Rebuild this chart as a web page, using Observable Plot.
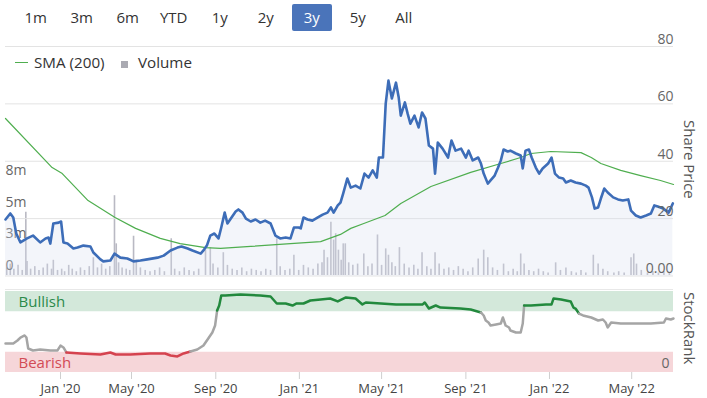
<!DOCTYPE html>
<html><head><meta charset="utf-8">
<script src="https://cdn.jsdelivr.net/npm/d3@7"></script>
<script src="https://cdn.jsdelivr.net/npm/@observablehq/plot@0.6"></script>
<style>
body{margin:0;background:#fff;font-family:"Open Sans",sans-serif;}
#wrap{position:relative;width:707px;height:398px;overflow:hidden;background:#fff;}
.layer{position:absolute;left:0;}
.btn{position:absolute;top:4px;height:27px;line-height:27px;font-size:15px;color:#333;text-align:center;width:40px;margin-left:-20px;border-radius:2px;}
.btn.on{background:#4a74ba;color:#fff;}
.leg{position:absolute;font-size:15.2px;color:#333;line-height:20px;top:52px;}
.vt{position:absolute;writing-mode:vertical-rl;font-size:15px;color:#555;line-height:18px;white-space:nowrap;}
.sep{position:absolute;left:5px;width:668px;height:0;border-top:1px solid #e8e8e8;}
.rank [aria-label="x-axis tick"], .rank [aria-label="x-axis"] .tick line{stroke:#cfcfcf;}
</style>
</head><body>
<div id="wrap"></div>
<script>
// ---------- data ----------
const rangeButtons = ["1m","3m","6m","YTD","1y","2y","3y","5y","All"];
const activeButton = "3y";

const priceData = [
["2019-10-01",19.7],["2019-10-09",21.8],["2019-10-14",20.4],["2019-10-19",14.8],["2019-10-26",11.7],
["2019-11-06",13.1],["2019-11-16",14.1],["2019-11-28",11.7],["2019-12-07",13.1],["2019-12-12",13.4],
["2019-12-15",11.3],["2019-12-20",18.3],["2019-12-29",18.6],["2020-01-02",19.0],["2020-01-06",11.7],
["2020-01-13",11.3],["2020-01-23",9.6],["2020-01-30",9.9],["2020-02-09",10.6],["2020-02-21",10.3],
["2020-02-26",8.2],["2020-03-09",5.8],["2020-03-14",5.1],["2020-03-26",5.4],["2020-04-02",7.8],
["2020-04-12",6.4],["2020-04-24",6.1],["2020-05-04",5.1],["2020-05-14",5.4],["2020-05-24",5.8],
["2020-06-08",6.4],["2020-06-17",7.1],["2020-06-27",8.9],["2020-07-07",9.9],["2020-07-13",10.3],
["2020-07-22",9.6],["2020-07-29",8.9],["2020-08-10",7.8],["2020-08-14",8.9],["2020-08-19",10.6],
["2020-08-24",14.1],["2020-08-30",14.8],["2020-09-05",13.1],["2020-09-09",16.9],["2020-09-14",22.1],
["2020-09-18",18.3],["2020-09-24",20.4],["2020-09-30",22.5],["2020-10-04",23.2],["2020-10-10",22.1],
["2020-10-15",20.0],["2020-10-22",19.0],["2020-10-29",19.7],["2020-11-05",18.6],["2020-11-12",19.3],
["2020-11-20",18.3],["2020-11-27",14.1],["2020-12-04",13.1],["2020-12-12",13.4],["2020-12-19",13.1],
["2020-12-24",16.9],["2020-12-31",16.9],["2021-01-03",16.6],["2021-01-07",20.4],["2021-01-13",19.7],
["2021-01-20",19.3],["2021-01-28",20.4],["2021-02-04",21.4],["2021-02-11",22.1],["2021-02-16",23.9],
["2021-02-20",22.1],["2021-02-26",24.6],["2021-03-02",25.6],["2021-03-06",28.8],["2021-03-12",34.0],
["2021-03-17",30.8],["2021-03-24",31.5],["2021-03-31",30.5],["2021-04-06",35.7],["2021-04-12",34.3],
["2021-04-18",36.8],["2021-04-24",34.3],["2021-04-27",41.3],["2021-05-03",41.3],["2021-05-07",60.1],
["2021-05-11",68.1],["2021-05-16",61.9],["2021-05-22",67.4],["2021-05-26",62.2],["2021-05-29",55.9],
["2021-06-04",60.5],["2021-06-08",56.6],["2021-06-12",53.1],["2021-06-18",55.9],["2021-06-24",51.8],
["2021-06-29",57.0],["2021-07-04",54.9],["2021-07-09",45.5],["2021-07-15",44.4],["2021-07-18",35.7],
["2021-07-22",46.5],["2021-07-29",44.4],["2021-08-06",41.3],["2021-08-11",47.2],["2021-08-17",43.7],
["2021-08-25",44.4],["2021-09-01",41.3],["2021-09-05",43.7],["2021-09-11",40.3],["2021-09-19",41.3],
["2021-09-23",39.2],["2021-09-27",35.7],["2021-10-03",32.2],["2021-10-07",33.3],["2021-10-13",35.0],
["2021-10-18",37.8],["2021-10-22",40.3],["2021-10-26",44.1],["2021-11-01",43.4],["2021-11-05",43.7],
["2021-11-13",42.7],["2021-11-20",42.0],["2021-11-23",37.5],["2021-11-27",43.7],["2021-12-02",44.1],
["2021-12-06",41.3],["2021-12-12",37.8],["2021-12-17",35.7],["2021-12-22",37.5],["2021-12-30",39.2],
["2022-01-04",41.3],["2022-01-09",35.7],["2022-01-15",34.3],["2022-01-21",34.0],["2022-01-25",32.6],
["2022-02-01",33.3],["2022-02-08",32.6],["2022-02-16",32.2],["2022-02-23",31.5],["2022-02-27",30.8],
["2022-03-04",27.4],["2022-03-08",23.5],["2022-03-13",23.9],["2022-03-17",27.0],["2022-03-22",30.5],
["2022-03-27",29.1],["2022-04-04",27.4],["2022-04-11",26.7],["2022-04-18",26.3],["2022-04-26",26.7],
["2022-04-30",22.8],["2022-05-07",21.1],["2022-05-14",20.4],["2022-05-22",21.1],["2022-05-29",21.8],
["2022-06-03",24.6],["2022-06-08",24.2],["2022-06-16",23.5],["2022-06-20",22.8],["2022-06-24",22.1],
["2022-06-30",25.3]
];

const smaData = [
["2019-10-01",54.9],["2019-12-18",37.8],["2020-01-04",35.7],["2020-02-17",26.3],["2020-04-03",20.4],
["2020-05-07",16.6],["2020-06-12",13.1],["2020-07-11",11.3],["2020-08-17",9.9],["2020-09-08",9.6],
["2020-10-22",10.3],["2020-12-19",11.3],["2021-02-01",12.0],["2021-03-02",14.5],["2021-03-17",16.6],
["2021-04-05",18.3],["2021-05-06",21.1],["2021-05-29",25.3],["2021-07-12",31.2],["2021-09-08",36.1],
["2021-10-22",39.2],["2021-11-20",41.3],["2021-12-05",42.7],["2022-01-03",43.4],["2022-02-16",43.0],
["2022-03-03",41.3],["2022-03-17",39.2],["2022-04-15",36.8],["2022-05-14",35.0],["2022-06-12",33.3],
["2022-07-01",31.9]
];

// volume in millions
const volumeData = [
["2019-10-03",0.6],["2019-10-09",0.9],["2019-10-15",0.5],["2019-10-22",0.8],["2019-10-29",0.4],["2019-11-04",5.0],
["2019-11-06",1.1],["2019-11-12",0.5],["2019-11-19",0.7],["2019-11-26",0.4],["2019-12-03",0.6],["2019-12-10",0.9],
["2019-12-17",0.5],["2019-12-20",1.2],["2019-12-27",0.4],["2020-01-03",0.5],["2020-01-08",0.3],["2020-01-15",0.8],
["2020-01-21",0.5],["2020-01-28",0.3],["2020-02-04",0.6],["2020-02-11",0.4],["2020-02-19",0.7],["2020-02-26",1.4],
["2020-03-04",0.6],["2020-03-11",0.9],["2020-03-18",0.5],["2020-03-25",0.7],["2020-04-02",6.3],["2020-04-05",2.5],
["2020-04-09",1.0],["2020-04-15",0.6],["2020-04-22",0.5],["2020-04-28",0.4],["2020-05-04",3.1],["2020-05-08",1.2],
["2020-05-14",0.6],["2020-05-21",0.4],["2020-05-28",0.3],["2020-06-04",0.4],["2020-06-11",0.6],["2020-06-18",0.3],
["2020-06-28",2.9],["2020-07-03",0.5],["2020-07-10",0.3],["2020-07-17",0.6],["2020-07-24",0.4],["2020-07-31",0.3],
["2020-08-07",0.5],["2020-08-17",2.0],["2020-08-24",2.2],["2020-08-28",0.9],["2020-09-04",0.6],["2020-09-12",1.8],
["2020-09-18",0.8],["2020-09-25",0.5],["2020-10-02",0.4],["2020-10-09",0.6],["2020-10-16",0.3],["2020-10-23",0.5],
["2020-10-30",0.4],["2020-11-06",0.3],["2020-11-13",0.5],["2020-11-20",0.4],["2020-11-29",2.9],["2020-12-04",0.7],
["2020-12-11",0.4],["2020-12-18",0.5],["2020-12-24",1.6],["2020-12-31",0.4],["2021-01-07",0.8],["2021-01-14",0.6],
["2021-01-21",0.5],["2021-01-28",0.9],["2021-02-03",1.0],["2021-02-06",2.0],["2021-02-11",1.4],["2021-02-16",4.2],
["2021-02-20",2.8],["2021-02-23",3.3],["2021-02-27",2.0],["2021-03-03",1.2],["2021-03-06",2.5],["2021-03-09",2.5],
["2021-03-14",1.0],["2021-03-20",0.8],["2021-03-27",0.9],["2021-04-05",1.7],["2021-04-11",0.7],["2021-04-17",0.9],
["2021-04-25",3.2],["2021-05-01",0.8],["2021-05-07",2.1],["2021-05-11",1.6],["2021-05-16",1.0],["2021-05-21",0.7],
["2021-05-27",2.2],["2021-06-03",0.9],["2021-06-10",0.6],["2021-06-17",0.8],["2021-06-23",0.5],["2021-06-29",1.8],
["2021-07-06",0.7],["2021-07-12",0.5],["2021-07-18",1.8],["2021-07-24",0.9],["2021-07-31",0.5],["2021-08-07",0.6],
["2021-08-14",0.4],["2021-08-21",0.7],["2021-08-28",0.5],["2021-09-04",0.3],["2021-09-11",0.6],["2021-09-19",1.3],
["2021-09-27",2.0],["2021-10-03",1.4],["2021-10-10",0.6],["2021-10-17",0.4],["2021-10-26",0.9],["2021-11-02",0.3],
["2021-11-09",0.5],["2021-11-15",0.3],["2021-11-20",1.7],["2021-11-25",0.9],["2021-12-02",0.4],["2021-12-09",0.3],
["2021-12-16",0.5],["2021-12-23",0.3],["2021-12-30",0.2],["2022-01-10",1.0],["2022-01-17",0.4],["2022-01-25",0.6],
["2022-02-02",0.3],["2022-02-09",0.2],["2022-02-16",0.4],["2022-02-23",0.2],["2022-03-06",1.6],["2022-03-13",0.9],
["2022-03-20",0.5],["2022-03-27",0.3],["2022-04-05",0.2],["2022-04-12",0.3],["2022-04-20",0.2],["2022-04-30",1.4],
["2022-05-04",1.7],["2022-05-08",0.9],["2022-05-15",0.4],["2022-05-24",0.2],["2022-06-01",0.3],["2022-06-09",0.2],
["2022-06-17",0.3],["2022-06-25",0.2]
];

const rankData = [
["2019-10-01",35.8],["2019-10-14",35.8],["2019-10-21",39.5],["2019-10-26",43.2],["2019-11-02",45.7],["2019-11-05",43.2],
["2019-11-08",29.6],["2019-11-16",27.2],["2019-11-28",28.4],["2019-12-15",27.2],["2019-12-27",27.2],["2020-01-01",33.3],
["2020-01-06",30.9],["2020-01-11",24.7],["2020-02-04",23.5],["2020-03-09",22.2],["2020-03-26",24.7],["2020-04-04",22.2],
["2020-04-29",22.2],["2020-05-28",23.5],["2020-06-19",23.5],["2020-06-27",21.0],["2020-07-07",19.8],["2020-07-16",23.5],
["2020-07-26",25.9],["2020-08-05",28.4],["2020-08-14",33.3],["2020-08-21",42.0],["2020-08-27",49.4],["2020-08-31",58.0],
["2020-09-03",76.5],["2020-09-06",82.7],["2020-09-09",95.1],["2020-09-15",95.1],["2020-10-07",96.3],["2020-11-05",95.1],
["2020-11-20",93.8],["2020-11-29",85.2],["2020-12-12",85.2],["2020-12-22",82.7],["2020-12-28",85.2],["2021-01-07",85.2],
["2021-01-17",88.9],["2021-02-01",90.1],["2021-02-15",91.4],["2021-02-26",87.7],["2021-03-10",92.6],["2021-03-24",91.4],
["2021-04-03",84.0],["2021-04-08",86.4],["2021-04-30",85.2],["2021-05-22",84.0],["2021-06-12",84.0],["2021-06-30",84.0],
["2021-07-03",86.4],["2021-07-09",79.0],["2021-07-19",82.7],["2021-07-26",80.2],["2021-08-24",79.0],["2021-09-08",77.8],
["2021-09-23",74.1],["2021-09-27",70.4],["2021-09-30",64.2],["2021-10-04",61.7],["2021-10-07",58.0],["2021-10-15",59.3],
["2021-10-22",60.5],["2021-10-25",67.9],["2021-10-29",58.0],["2021-11-03",55.6],["2021-11-05",51.9],["2021-11-13",49.4],
["2021-11-20",49.4],["2021-11-23",60.5],["2021-11-25",82.7],["2021-12-05",82.7],["2021-12-27",84.0],["2022-01-04",84.0],
["2022-01-07",91.4],["2022-01-18",90.1],["2022-02-01",87.7],["2022-02-05",80.2],["2022-02-08",79.0],["2022-02-13",72.8],
["2022-02-19",70.4],["2022-03-03",67.9],["2022-03-13",64.2],["2022-03-20",65.4],["2022-03-24",61.7],["2022-03-27",55.6],
["2022-04-01",61.7],["2022-04-15",60.5],["2022-04-30",60.5],["2022-05-29",60.5],["2022-06-17",61.7],["2022-06-20",66.7],
["2022-06-27",65.4],["2022-07-01",66.7]
];

const priceTicks = [0, 20, 40, 60, 80];
const priceTickLabels = ["0.00", "20", "40", "60", "80"];
const volumeTicks = [0, 2.5, 5, 7.5];
const volumeTickLabels = ["0", "3m", "5m", "8m"];
const rankTicks = [0];
const rankTickLabels = ["0"];
const rankBands = [{lo: 75, hi: 100, name: "Bullish"}, {lo: 0, hi: 25, name: "Bearish"}];
const xTickDates = ["2020-01-01","2020-05-01","2020-09-01","2021-01-01","2021-05-01","2021-09-01","2022-01-01","2022-05-01"];
const xTickLabels = ["Jan '20","May '20","Sep '20","Jan '21","May '21","Sep '21","Jan '22","May '22"];

// ---------- build ----------
const P = a => a.map(([d, v]) => ({date: new Date(d), value: v}));
const price = P(priceData), sma = P(smaData), volume = P(volumeData);
const xStart = new Date("2019-10-01"), xEnd = new Date("2022-07-01");
const xScale = {type: "time", domain: [xStart, new Date("2020-01-01"), new Date("2020-05-01"), xEnd], range: [5, 60, 131, 673]};
const FONT = '"Open Sans", sans-serif';
const wrap = document.getElementById("wrap");

function add(el, top, cls) {
  el.classList.add("layer"); if (cls) el.classList.add(cls);
  el.style.top = top + "px"; wrap.appendChild(el);
}

// volume layer
const volPlot = Plot.plot({
  width: 707, height: 282, margin: 0,
  x: {...xScale, axis: null},
  y: {domain: [0, 7.5], range: [275, 180], axis: null},
  style: {background: "transparent", fontFamily: FONT, fontSize: "14px", overflow: "visible"},
  marks: [
    Plot.ruleX(volume, {x: "date", y1: 0, y2: "value", stroke: "#b9b9c3", strokeWidth: 1.6}),
    Plot.text(volumeTicks, {x: () => xStart, y: d => d, text: (d, i) => volumeTickLabels[i], textAnchor: "start", dy: -10, fill: "#666"})
  ]
});
add(volPlot, 0);

// price layer
const pricePlot = Plot.plot({
  width: 707, height: 282, margin: 0,
  x: {...xScale, axis: null},
  y: {domain: [0, 80], range: [275.5, 46], axis: null},
  style: {background: "transparent", fontFamily: FONT, fontSize: "14px", overflow: "visible"},
  marks: [
    Plot.ruleY(priceTicks, {y: d => d, x1: () => xStart, x2: () => xEnd, stroke: "#e3e3e3", strokeWidth: 1}),
    Plot.areaY(price, {x: "date", y: "value", fill: "#d8def0", fillOpacity: 0.3}),
    Plot.line(sma, {x: "date", y: "value", stroke: "#4fae4f", strokeWidth: 1.2}),
    Plot.line(price, {x: "date", y: "value", stroke: "#3d6db8", strokeWidth: 2.6, strokeLinejoin: "round"}),
    Plot.text(priceTicks, {x: () => xEnd, y: d => d, text: (d, i) => priceTickLabels[i], textAnchor: "end", dy: -7, fill: "#666"})
  ]
});
add(pricePlot, 0);

// stockrank layer
const cat = v => v >= 75 ? "bull" : v <= 25 ? "bear" : "neutral";
const rankSegs = [];
let run = 0;
rankData.forEach(([d, v], i) => {
  const c = cat(v);
  if (i > 0) {
    const pc = cat(rankData[i - 1][1]);
    if (c !== pc) { rankSegs.push({date: new Date(d), value: v, run, c: pc}); run++; }
  }
  rankSegs.push({date: new Date(d), value: v, run, c});
});
const xTickMap = new Map(xTickDates.map((d, i) => [+new Date(d), xTickLabels[i]]));
const rankPlot = Plot.plot({
  width: 707, height: 118,
  marginTop: 0, marginLeft: 0, marginRight: 0, marginBottom: 26,
  x: {...xScale, ticks: xTickDates.map(d => new Date(d)), tickFormat: d => xTickMap.get(+d), tickSize: 7, tickPadding: 4, label: null},
  y: {domain: [0, 100], range: [92, 11], axis: null},
  color: {domain: ["bull", "neutral", "bear"], range: ["#22893d", "#a5a5a5", "#d5434f"]},
  style: {background: "transparent", fontFamily: FONT, fontSize: "13px", color: "#444", overflow: "visible"},
  marks: [
    Plot.rect(rankBands, {x1: () => xStart, x2: () => xEnd, y1: "lo", y2: "hi", fill: (d, i) => ["#d3e8da", "#f6d6d9"][i]}),
    Plot.text(rankBands, {x: () => xStart, y: d => (d.lo + d.hi) / 2, text: "name", textAnchor: "start", dx: 13, dy: 1, fontSize: 15, fill: (d, i) => ["#2b8a4a", "#d24b55"][i]}),
    Plot.line(rankSegs, {x: "date", y: "value", z: "run", stroke: "c", strokeWidth: 2.5, strokeLinejoin: "round"}),
    Plot.text(rankTicks, {x: () => xEnd, y: d => d, text: (d, i) => rankTickLabels[i], textAnchor: "end", dx: -4, dy: -9, fontSize: 14, fill: "#666"})
  ]
});
add(rankPlot, 280, "rank");

// separator line above rank panel
const sep = document.createElement("div"); sep.className = "sep"; sep.style.top = "289px"; wrap.appendChild(sep);

// buttons
rangeButtons.forEach((b, i) => {
  const el = document.createElement("div");
  el.className = "btn" + (b === activeButton ? " on" : "");
  el.style.left = (35.7 + i * 46.0) + "px";
  el.textContent = b; wrap.appendChild(el);
});

// legend
const lg = document.createElement("div");
lg.innerHTML = '<div style="position:absolute;left:15px;top:62px;width:13px;border-top:1.4px solid #4fae4f"></div>' +
  '<div class="leg" style="left:34px">SMA (200)</div>' +
  '<div style="position:absolute;left:121px;top:61px;width:7px;height:7px;background:#aaaab2"></div>' +
  '<div class="leg" style="left:138px">Volume</div>';
wrap.appendChild(lg);

// axis titles
const t1 = document.createElement("div"); t1.className = "vt"; t1.textContent = "Share Price";
t1.style.left = "681px"; t1.style.top = "120px"; wrap.appendChild(t1);
const t2 = document.createElement("div"); t2.className = "vt"; t2.textContent = "StockRank";
t2.style.left = "681px"; t2.style.top = "292px"; wrap.appendChild(t2);
</script>
</body></html>
